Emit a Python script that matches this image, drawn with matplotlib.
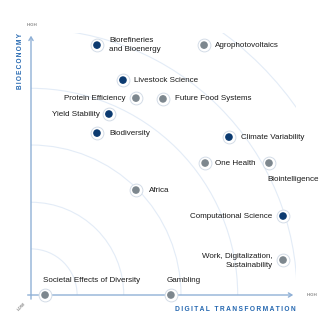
import numpy as np
import matplotlib
matplotlib.use("Agg")
import matplotlib.pyplot as plt
from matplotlib.patches import Arc

# topics on the Digital Transformation (x) / Bioeconomy (y) map, 0..10 scale
topics = ["Biorefineries\nand Bioenergy", "Agrophotovoltaics", "Livestock Science",
          "Protein Efficiency", "Future Food Systems", "Yield Stability",
          "Biodiversity", "Climate Variability", "One Health", "Biointelligence",
          "Africa", "Computational Science", "Work, Digitalization,\nSustainability",
          "Societal Effects of Diversity", "Gambling"]
digital = [2.49, 6.53, 3.47, 3.96, 4.98, 2.94, 2.49, 7.47, 6.57, 8.98,
           3.96, 9.51, 9.51, 0.53, 5.28]
bioeconomy = [9.43, 9.43, 8.11, 7.43, 7.40, 6.83, 6.11, 5.96, 4.98, 4.98,
              3.96, 2.98, 1.32, 0.0, 0.0]
core = [True, False, True, False, False, True, True, True, False, False,
        False, True, False, False, False]
# label placement (pixel offset, alignment)
label_pos = [(12, 0, "left"), (11, 0, "left"), (11, 0, "left"), (-10, 0, "right"),
             (12, 0, "left"), (-9, 0, "right"), (12, 0, "left"), (12, 0, "left"),
             (10, 0, "left"), (-2, -16, "left"), (13, 0, "left"), (-11, 0, "right"),
             (-10, -1, "right"), (-2, 14, "left"), (-4, 14, "left")]
ring_radii = [1.74, 3.5, 5.66, 7.8, 10.04, 12.26]

NAVY = "#0b3a70"
GREY = "#7d878e"
AXIS = "#8fb0d6"
BLUE = "#2467b0"

plt.rcParams["font.family"] = ["Liberation Sans", "DejaVu Sans"]

s = 26.5  # px per unit
fig = plt.figure(figsize=(3.27, 3.27), dpi=100)
ax = fig.add_axes([0, 0, 1, 1])
ax.set_xlim(-31 / s, (327 - 31) / s)
ax.set_ylim(-(327 - 295) / s, 295 / s)
ax.axis("off")

# faint concentric rings
clip = matplotlib.transforms.Bbox([[0, 0], [10, 9.89]])
for r in ring_radii:
    arc = Arc((0, 0), 2 * r, 2 * r, theta1=0, theta2=90, color="#e3ecf7", lw=0.8)
    ax.add_patch(arc)
    arc.set_clip_box(ax.transData.transform_bbox(clip))

# axes with arrows
ax.annotate("", xy=(10, 0), xytext=(-0.23, 0),
            arrowprops=dict(arrowstyle="->,head_length=0.25,head_width=0.15",
                            color=AXIS, lw=1.0))
ax.annotate("", xy=(0, 9.89), xytext=(0, -0.26),
            arrowprops=dict(arrowstyle="->,head_length=0.25,head_width=0.15",
                            color=AXIS, lw=1.0))

sp = "\u2009"
ax.text(-0.38, 9.89, sp.join("BIOECONOMY"), rotation=90, ha="center", va="top",
        color=BLUE, fontsize=4.7, fontweight="bold")
ax.text(10, -0.42, sp.join("DIGITAL TRANSFORMATION"), ha="right", va="top",
        color=BLUE, fontsize=4.8, fontweight="bold")
ax.text(0.05, 10.2, "HIGH", ha="center", va="center", color="#8a8a8a",
        fontsize=3.2, fontweight="bold")
ax.text(10.6, 0, "HIGH", ha="center", va="center", color="#8a8a8a",
        fontsize=3.2, fontweight="bold")
ax.text(-0.34, -0.45, "LOW", ha="center", va="center", color="#8a8a8a",
        fontsize=3.2, fontweight="bold", rotation=45)

# points with halo
cols = [NAVY if c else GREY for c in core]
ax.scatter(digital, bioeconomy, s=85, facecolor="white", edgecolor="#d3dce7",
           linewidth=0.7, zorder=3, clip_on=False)
ax.scatter(digital, bioeconomy, s=20, color=cols, zorder=4, clip_on=False)

for name, x, y, (dx, dy, ha) in zip(topics, digital, bioeconomy, label_pos):
    ax.annotate(name, (x, y), xytext=(dx, dy), textcoords="offset pixels",
                ha=ha, va="center", multialignment=ha, fontsize=5.8,
                color="#1a1a1a", linespacing=1.45)

fig.savefig("out.png", dpi=100)
